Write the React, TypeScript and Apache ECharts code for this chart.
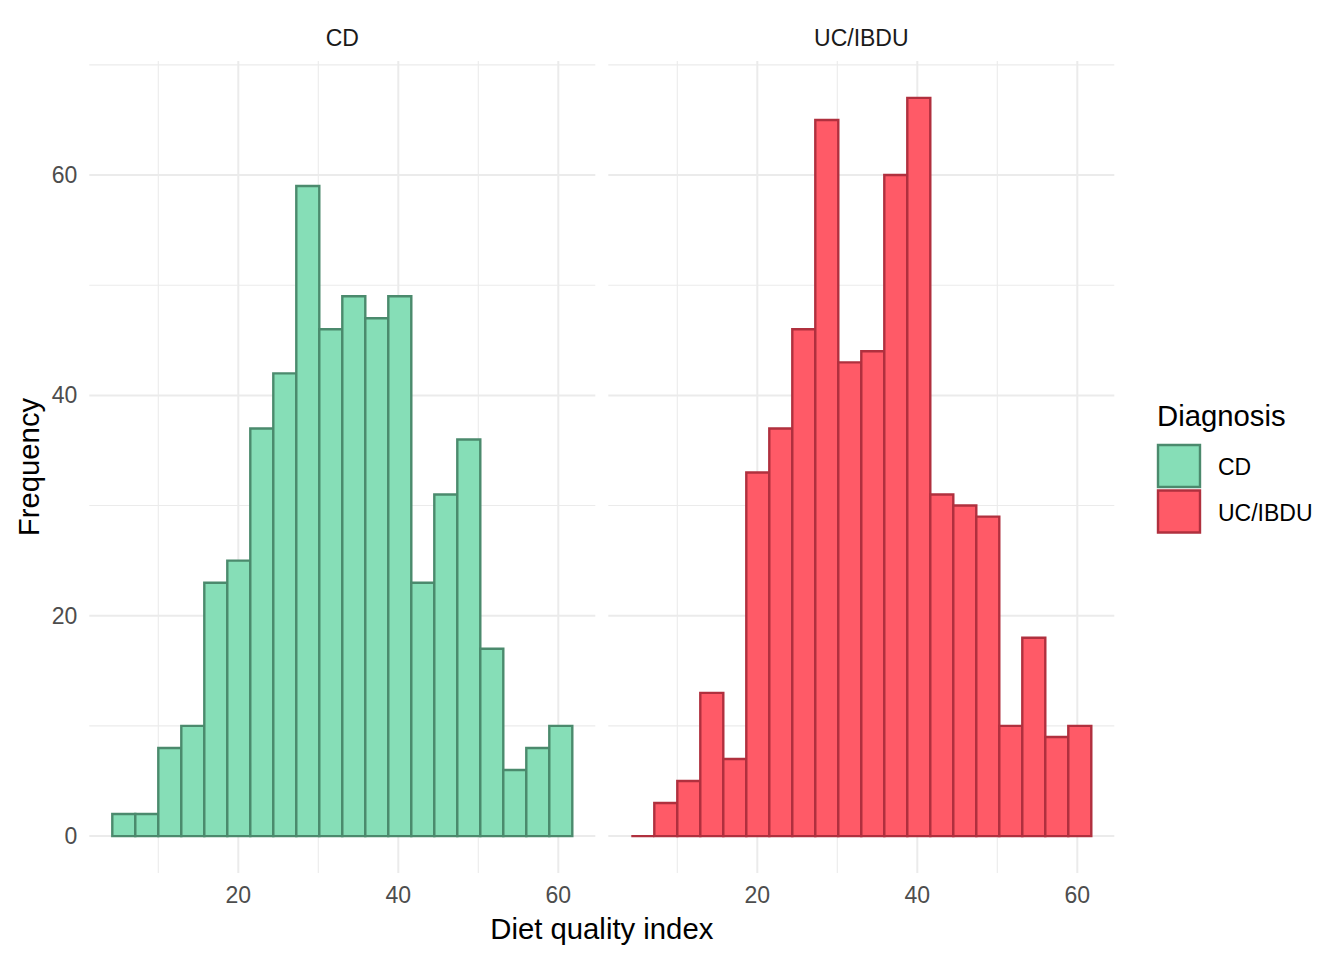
import React, { useEffect, useRef } from "react";
import * as echarts from "echarts";

// ---- data ----
const binEdges = [4.25, 7.125, 10, 12.875, 15.75, 18.625, 21.5, 24.375, 27.25, 30.125, 33, 35.875, 38.75, 41.625, 44.5, 47.375, 50.25, 53.125, 56, 58.875, 61.75];
const cdCounts = [2, 2, 8, 10, 23, 25, 37, 42, 59, 46, 49, 47, 49, 23, 31, 36, 17, 6, 8, 10];
const ucCounts = [0, 3, 5, 13, 7, 33, 37, 46, 65, 43, 44, 60, 67, 31, 30, 29, 10, 18, 9, 10];
const panels = ["CD", "UC/IBDU"];
const xTickLabels = [20, 40, 60];
const yTickLabels = [0, 20, 40, 60];
const xMajor = [20, 40, 60];
const xMinor = [10, 30, 50];
const yMajor = [0, 20, 40, 60];
const yMinor = [10, 30, 50, 70];

const X_MIN = 1.375;
const X_MAX = 64.625;
const Y_MIN = -3.35;
const Y_MAX = 70.35;

const FONT = "'Liberation Sans', Arial, Helvetica, sans-serif";
const fills = ["#86DEB7", "#FF5A67"];
const strokes = ["#4B8A6D", "#B0303E"];

const gridLeft = [89.3, 608.3];
const gridWidth = 506;
const gridTop = 61;
const gridBottom = 87;

function buildGridData() {
  const items: number[][] = [];
  xMinor.forEach((v) => items.push([v, 0, 0, 0]));
  yMinor.forEach((v) => items.push([xMajor[0], v, 1, 0]));
  xMajor.forEach((v) => items.push([v, 0, 0, 1]));
  yMajor.forEach((v) => items.push([xMajor[0], v, 1, 1]));
  return items;
}

export default function App() {
  const ref = useRef<HTMLDivElement>(null);
  useEffect(() => {
    if (!ref.current) return;
    const chart = echarts.init(ref.current, null, { renderer: "svg" });
    const counts = [cdCounts, ucCounts];

    const grids = panels.map((_, i) => ({
      left: gridLeft[i],
      width: gridWidth,
      top: gridTop,
      bottom: gridBottom,
      containLabel: false,
    }));

    const xAxes = panels.map((_, i) => ({
      type: "value",
      gridIndex: i,
      min: X_MIN,
      max: X_MAX,
      axisLine: { show: false },
      axisTick: { show: false },
      splitLine: { show: false },
      axisLabel: {
        customValues: xTickLabels,
        color: "#4D4D4D",
        fontSize: 23,
        fontFamily: FONT,
        margin: 10,
      },
    }));

    const yAxes = panels.map((_, i) => ({
      type: "value",
      gridIndex: i,
      min: Y_MIN,
      max: Y_MAX,
      axisLine: { show: false },
      axisTick: { show: false },
      splitLine: { show: false },
      axisLabel: {
        show: i === 0,
        customValues: yTickLabels,
        color: "#4D4D4D",
        fontSize: 23,
        fontFamily: FONT,
        margin: 12,
      },
    }));

    const gridData = buildGridData();
    const series: any[] = [];
    panels.forEach((name, i) => {
      series.push({
        type: "custom",
        xAxisIndex: i,
        yAxisIndex: i,
        z: 1,
        silent: true,
        clip: false,
        data: gridData,
        renderItem: (params: any, api: any) => {
          const cs = params.coordSys;
          const dir = api.value(2);
          const major = api.value(3);
          const style = { stroke: "#EBEBEB", lineWidth: major ? 2 : 1.1 };
          if (dir === 0) {
            const p = api.coord([api.value(0), 0]);
            return {
              type: "line",
              shape: { x1: p[0], y1: cs.y, x2: p[0], y2: cs.y + cs.height },
              style,
            };
          }
          const p = api.coord([api.value(0), api.value(1)]);
          return {
            type: "line",
            shape: { x1: cs.x, y1: p[1], x2: cs.x + cs.width, y2: p[1] },
            style,
          };
        },
      });
      series.push({
        type: "custom",
        name,
        xAxisIndex: i,
        yAxisIndex: i,
        z: 2,
        data: counts[i].map((c, k) => [binEdges[k], binEdges[k + 1], c]),
        encode: { x: [0, 1], y: 2 },
        renderItem: (params: any, api: any) => {
          const p0 = api.coord([api.value(0), api.value(2)]);
          const p1 = api.coord([api.value(1), 0]);
          return {
            type: "rect",
            shape: { x: p0[0], y: p0[1], width: p1[0] - p0[0], height: p1[1] - p0[1] },
            style: { fill: fills[i], stroke: strokes[i], lineWidth: 2.4 },
          };
        },
      });
    });

    const graphic: any[] = [
      ...panels.map((name, i) => ({
        type: "text",
        x: gridLeft[i] + gridWidth / 2,
        y: 38,
        style: {
          text: name,
          fontSize: 23,
          fontFamily: FONT,
          fill: "#1A1A1A",
          align: "center",
          verticalAlign: "middle",
        },
      })),
      {
        type: "text",
        x: (gridLeft[0] + gridLeft[1] + gridWidth) / 2,
        y: 928,
        style: {
          text: "Diet quality index",
          fontSize: 29.3,
          fontFamily: FONT,
          fill: "#000000",
          align: "center",
          verticalAlign: "middle",
        },
      },
      {
        type: "text",
        x: 28,
        y: 467,
        rotation: Math.PI / 2,
        style: {
          text: "Frequency",
          fontSize: 29.3,
          fontFamily: FONT,
          fill: "#000000",
          align: "center",
          verticalAlign: "middle",
        },
      },
      {
        type: "text",
        x: 1157,
        y: 415,
        style: {
          text: "Diagnosis",
          fontSize: 29.3,
          fontFamily: FONT,
          fill: "#000000",
          align: "left",
          verticalAlign: "middle",
        },
      },
      ...panels.map((name, i) => ({
        type: "rect",
        shape: { x: 1158, y: 445 + i * 45.5, width: 42, height: 42 },
        style: { fill: fills[i], stroke: strokes[i], lineWidth: 2.4 },
      })),
      ...panels.map((name, i) => ({
        type: "text",
        x: 1218,
        y: 467 + i * 45.5,
        style: {
          text: name,
          fontSize: 23,
          fontFamily: FONT,
          fill: "#000000",
          align: "left",
          verticalAlign: "middle",
        },
      })),
    ];

    chart.setOption({
      animation: false,
      backgroundColor: "#FFFFFF",
      grid: grids,
      xAxis: xAxes,
      yAxis: yAxes,
      series,
      graphic,
    });
    return () => chart.dispose();
  }, []);

  return (
    <div
      ref={ref}
      style={{ position: "fixed", left: 0, top: 0, width: 1344, height: 960 }}
    />
  );
}
